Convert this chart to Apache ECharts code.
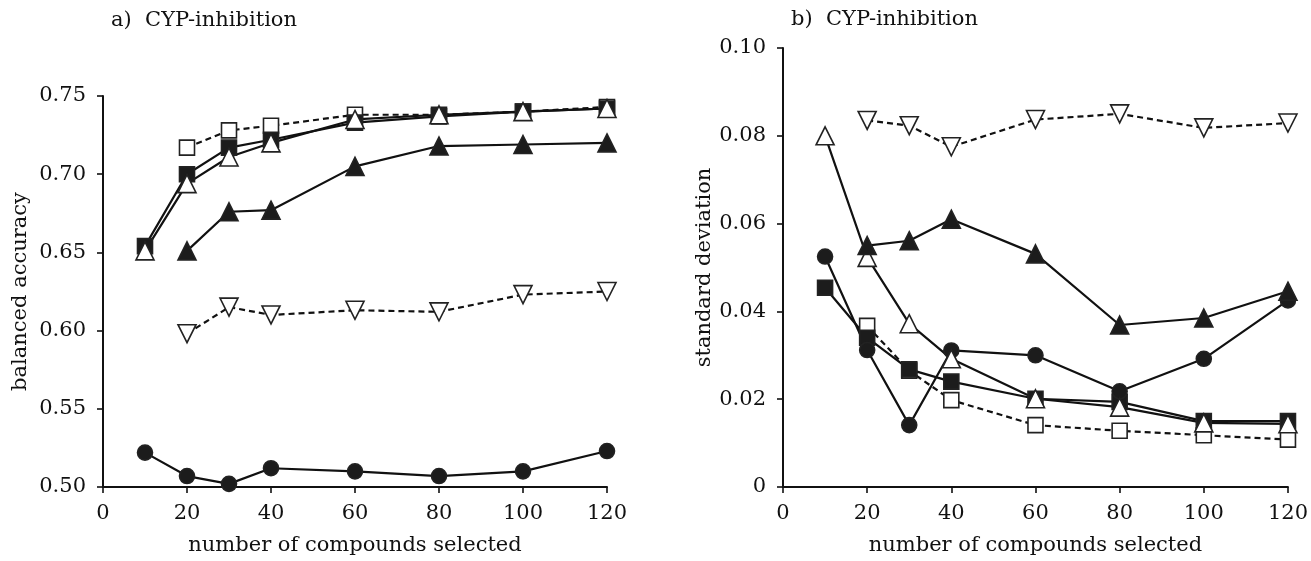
<!DOCTYPE html>
<html>
<head>
<meta charset="utf-8">
<script src="https://cdn.jsdelivr.net/npm/echarts@6/dist/echarts.min.js"></script>
<style>
html,body{margin:0;padding:0;background:#fff;}
#chart{width:1311px;height:561px;}
</style>
</head>
<body>
<div id="chart"></div>
<script>
// ---- data ----
const xValues = [10, 20, 30, 40, 60, 80, 100, 120];
const xTicks = ['0', '20', '40', '60', '80', '100', '120'];

// a) balanced accuracy (null = no point)
const accFilledSquare = [0.654, 0.700, 0.717, 0.722, 0.733, 0.737, 0.740, 0.742];
const accOpenSquare   = [null, 0.717, 0.728, 0.731, 0.738, 0.738, 0.740, 0.743];
const accOpenTri      = [0.651, 0.694, 0.711, 0.720, 0.735, 0.738, 0.740, 0.742];
const accFilledTri    = [null, 0.651, 0.676, 0.677, 0.705, 0.718, 0.719, 0.720];
const accDownTri      = [null, 0.598, 0.615, 0.610, 0.613, 0.612, 0.623, 0.625];
const accCircle       = [0.522, 0.507, 0.502, 0.512, 0.510, 0.507, 0.510, 0.523];

// b) standard deviation
const sdFilledSquare = [0.0454, 0.0340, 0.0268, 0.0240, 0.0201, 0.0194, 0.0150, 0.0150];
const sdOpenSquare   = [null, 0.0367, 0.0265, 0.0198, 0.0141, 0.0128, 0.0118, 0.0108];
const sdOpenTri      = [0.0800, 0.0523, 0.0372, 0.0292, 0.0201, 0.0182, 0.0146, 0.0144];
const sdFilledTri    = [null, 0.0550, 0.0561, 0.0610, 0.0531, 0.0369, 0.0385, 0.0446];
const sdDownTri      = [null, 0.0835, 0.0823, 0.0775, 0.0837, 0.0850, 0.0818, 0.0829];
const sdCircle       = [0.0525, 0.0312, 0.0141, 0.0311, 0.0300, 0.0218, 0.0292, 0.0425];

const FONT = 'DejaVu Serif';
const FS = 21;

function pairs(vals) {
  const out = [];
  vals.forEach((v, i) => { if (v !== null) out.push([xValues[i], v]); });
  return out;
}

const styles = {
  openSquare:   {symbol: 'rect', size: 15, fill: '#fff', dash: 'dashed'},
  filledSquare: {symbol: 'rect', size: 15, fill: '#1c1c1c', dash: 'solid'},
  openTri:      {symbol: 'triangle', size: 18, fill: '#fff', dash: 'solid'},
  filledTri:    {symbol: 'triangle', size: 18, fill: '#1c1c1c', dash: 'solid'},
  downTri:      {symbol: 'triangle', size: 18, fill: '#fff', dash: 'dashed', rotate: 180},
  circle:       {symbol: 'circle', size: 15, fill: '#1c1c1c', dash: 'solid'}
};

function mk(name, vals, st, axisIdx) {
  const s = styles[st];
  return {
    name: name,
    type: 'line',
    xAxisIndex: axisIdx, yAxisIndex: axisIdx,
    data: pairs(vals),
    symbol: s.symbol,
    symbolSize: s.size,
    symbolRotate: s.rotate || 0,
    showAllSymbol: true,
    lineStyle: {color: '#111', width: 2.2, type: s.dash === 'dashed' ? [6, 4] : 'solid'},
    itemStyle: {color: s.fill, borderColor: '#222', borderWidth: 1.6},
    emphasis: {disabled: true},
    animation: false
  };
}

const axisLine = {show: true, onZero: false, lineStyle: {color: '#111', width: 2}};
const axisTick = {show: true, length: 6, lineStyle: {color: '#111', width: 1.6}};
const lbl = {color: '#111', fontFamily: FONT, fontSize: FS};
const nameStyle = {color: '#111', fontFamily: FONT, fontSize: FS};

function xAxis(gi) {
  return {
    type: 'value', gridIndex: gi, min: 0, max: 120, interval: 20,
    axisLine: axisLine, axisTick: axisTick,
    axisLabel: Object.assign({margin: 16, formatter: v => xTicks[Math.round(v / 20)]}, lbl),
    splitLine: {show: false},
    name: 'number of compounds selected', nameLocation: 'middle', nameGap: 48,
    nameTextStyle: nameStyle
  };
}

const option = {
  backgroundColor: '#fff',
  animation: false,
  grid: [
    {left: 103, top: 96, width: 504, height: 397},
    {left: 783, top: 48, width: 507, height: 444}
  ],
  title: [
    {text: 'a)  CYP-inhibition', left: 106, top: 5,
     textStyle: {color: '#111', fontFamily: FONT, fontSize: FS, fontWeight: 'normal'}},
    {text: 'b)  CYP-inhibition', left: 786, top: 4,
     textStyle: {color: '#111', fontFamily: FONT, fontSize: FS, fontWeight: 'normal'}}
  ],
  xAxis: [xAxis(0), xAxis(1)],
  yAxis: [
    {type: 'value', gridIndex: 0, min: 0.5, max: 0.75, interval: 0.05,
     axisLine: axisLine, axisTick: axisTick, splitLine: {show: false},
     axisLabel: Object.assign({margin: 17, formatter: v => v.toFixed(2)}, lbl),
     name: 'balanced accuracy', nameLocation: 'middle', nameGap: 72,
     nameTextStyle: nameStyle},
    {type: 'value', gridIndex: 1, min: 0, max: 0.1, interval: 0.02,
     axisLine: axisLine, axisTick: axisTick, splitLine: {show: false},
     axisLabel: Object.assign({margin: 17, formatter: v => v === 0 ? '0' : v.toFixed(2)}, lbl),
     name: 'standard deviation', nameLocation: 'middle', nameGap: 66,
     nameTextStyle: nameStyle}
  ],
  series: [
    mk('openSquare', accOpenSquare, 'openSquare', 0),
    mk('filledSquare', accFilledSquare, 'filledSquare', 0),
    mk('openTri', accOpenTri, 'openTri', 0),
    mk('filledTri', accFilledTri, 'filledTri', 0),
    mk('downTri', accDownTri, 'downTri', 0),
    mk('circle', accCircle, 'circle', 0),
    mk('openSquare', sdOpenSquare, 'openSquare', 1),
    mk('filledSquare', sdFilledSquare, 'filledSquare', 1),
    mk('circle', sdCircle, 'circle', 1),
    mk('openTri', sdOpenTri, 'openTri', 1),
    mk('filledTri', sdFilledTri, 'filledTri', 1),
    mk('downTri', sdDownTri, 'downTri', 1)
  ]
};

const chart = echarts.init(document.getElementById('chart'), null, {renderer: 'canvas'});
chart.setOption(option);
</script>
</body>
</html>
